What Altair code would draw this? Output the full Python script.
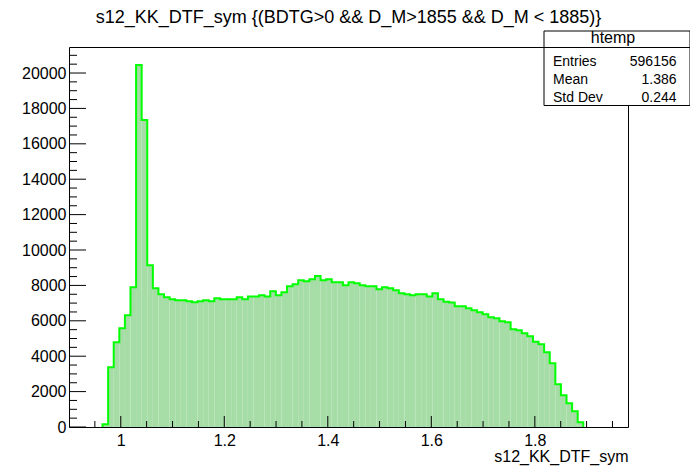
import altair as alt
import pandas as pd
import numpy as np

# ---- data ----
x_min, x_max, n_bins = 0.9, 1.98, 100
first_bin = 6
counts = [150, 3370, 4790, 5580, 6310, 7890, 20450, 17350, 9140, 7840,
          7500, 7330, 7220, 7160, 7160, 7100, 7050, 7100, 7160, 7100,
          7270, 7220, 7220, 7220, 7330, 7220, 7380, 7380, 7440, 7380,
          7670, 7440, 7610, 7950, 8060, 8290, 8230, 8350, 8530, 8290,
          8350, 8180, 8180, 8010, 8180, 8120, 8010, 7950, 7950, 7780,
          7890, 7840, 7720, 7550, 7500, 7440, 7500, 7500, 7380, 7550,
          7220, 7080, 7030, 6820, 6820, 6710, 6590, 6480, 6370, 6200,
          6140, 5970, 5920, 5520, 5460, 5290, 5130, 4820, 4670, 4220,
          3600, 2410, 1790, 1340, 890, 270]
y_max = 21470
x_tick_labels = [1.0, 1.2, 1.4, 1.6, 1.8]
y_tick_labels = list(range(0, 20001, 2000))
title_text = "s12_KK_DTF_sym {(BDTG>0 && D_M>1855 && D_M < 1885)}"
axis_title = "s12_KK_DTF_sym"
stats_name = "htemp"
stats_rows = ["Entries", "Mean", "Std Dev"]
stats_vals = ["596156", "1.386", "0.244"]

W, H = 559, 380
FONT = "Liberation Sans"

bw = (x_max - x_min) / n_bins
lo = [x_min + (first_bin + i) * bw for i in range(len(counts))]
hi = [v + bw for v in lo]

outline = pd.DataFrame({
    "x": [lo[0]] + lo + [hi[-1]],
    "y": [0] + counts + [0],
})
outline["idx"] = range(len(outline))

xs = alt.Scale(domain=[x_min, x_max], nice=False, zero=False)
ys = alt.Scale(domain=[0, y_max], nice=False, zero=True)

x_axis = alt.Axis(values=x_tick_labels, format="~g", ticks=False, domain=False,
                  grid=False, labelFont=FONT, labelFontSize=16, labelColor="black",
                  labelPadding=5, labelOverlap=False, labelFlush=False,
                  title=axis_title, titleFont=FONT,
                  titleFontSize=16, titleFontWeight="normal", titleColor="black",
                  titleAnchor="end", titleAlign="right", titleBaseline="alphabetic",
                  titleX=W, titleY=34)
y_axis = alt.Axis(values=y_tick_labels, format="d", ticks=False, domain=False,
                  grid=False, labelFont=FONT, labelFontSize=16, labelColor="black",
                  labelPadding=3, labelOverlap=False, labelFlush=False, title=None)

fill_layer = alt.Chart(outline).mark_area(
    color="#a6dca6", interpolate="step-after"
).encode(
    x=alt.X("x:Q", scale=xs, axis=x_axis),
    y=alt.Y("y:Q", scale=ys, axis=y_axis),
    order="idx:Q",
)

line_layer = alt.Chart(outline).mark_line(
    color="#00ff00", strokeWidth=2, interpolate="step-after"
).encode(
    x=alt.X("x:Q", scale=xs, axis=x_axis),
    y=alt.Y("y:Q", scale=ys, axis=y_axis),
    order="idx:Q",
)

# axis ticks (inward, ROOT style)
xmaj = pd.DataFrame({"x": x_tick_labels})
xmin_t = pd.DataFrame({"x": [t for t in np.round(np.arange(0.95, 1.98, 0.05), 2)
                             if round(t * 5, 6) != round(t * 5)]})
ymaj = pd.DataFrame({"y": y_tick_labels})
ymin_t = pd.DataFrame({"y": [t for t in range(500, 21470, 500) if t % 2000]})

xmaj_l = alt.Chart(xmaj).mark_rule(color="black", strokeWidth=1).encode(
    x=alt.X("x:Q", scale=xs, axis=x_axis), y=alt.value(H), y2=alt.value(H - 11))
xmin_l = alt.Chart(xmin_t).mark_rule(color="black", strokeWidth=1).encode(
    x=alt.X("x:Q", scale=xs, axis=x_axis), y=alt.value(H), y2=alt.value(H - 6))
ymaj_l = alt.Chart(ymaj).mark_rule(color="black", strokeWidth=1).encode(
    y=alt.Y("y:Q", scale=ys, axis=y_axis), x=alt.value(0), x2=alt.value(17))
ymin_l = alt.Chart(ymin_t).mark_rule(color="black", strokeWidth=1).encode(
    y=alt.Y("y:Q", scale=ys, axis=y_axis), x=alt.value(0), x2=alt.value(8))

one = pd.DataFrame({"a": [0]})

# title
title_l = alt.Chart(one).mark_text(
    font=FONT, fontSize=18, color="black", align="center", baseline="alphabetic",
    text=title_text
).encode(x=alt.value(W / 2), y=alt.value(-24))

# stats box
bx0, bx1, by0, by1, bsep = 475, 621, -16, 58.5, 0.5
box = alt.Chart(one).mark_rect(
    fill="white", stroke="black", strokeWidth=1
).encode(x=alt.value(bx0), x2=alt.value(bx1), y=alt.value(by0), y2=alt.value(by1))
sep = alt.Chart(one).mark_rule(color="black", strokeWidth=1).encode(
    x=alt.value(bx0), x2=alt.value(bx1), y=alt.value(bsep))
hdr = alt.Chart(one).mark_text(
    font=FONT, fontSize=16, color="black", align="center", baseline="alphabetic",
    text=stats_name
).encode(x=alt.value((bx0 + bx1) / 2 - 4), y=alt.value(-4))

row_ys = [18.7, 37.2, 55.4]
stat_layers = []
for name, val, ry in zip(stats_rows, stats_vals, row_ys):
    stat_layers.append(alt.Chart(one).mark_text(
        font=FONT, fontSize=14, color="black", align="left", baseline="alphabetic",
        text=name).encode(x=alt.value(bx0 + 9), y=alt.value(ry)))
    stat_layers.append(alt.Chart(one).mark_text(
        font=FONT, fontSize=14, color="black", align="right", baseline="alphabetic",
        text=val).encode(x=alt.value(bx1 - 13.5), y=alt.value(ry)))

chart = alt.layer(
    fill_layer, line_layer, xmaj_l, xmin_l, ymaj_l, ymin_l,
    title_l, box, sep, hdr, *stat_layers
).properties(
    width=W, height=H,
    autosize=alt.AutoSizeParams(type="none"),
    padding={"left": 61, "top": 39, "right": 62, "bottom": 40},
    background="white",
).configure_view(stroke="black", strokeWidth=1).configure_axis(labelOverlap=False)

chart.save("out.html", embed_options={"renderer": "svg", "actions": False})
